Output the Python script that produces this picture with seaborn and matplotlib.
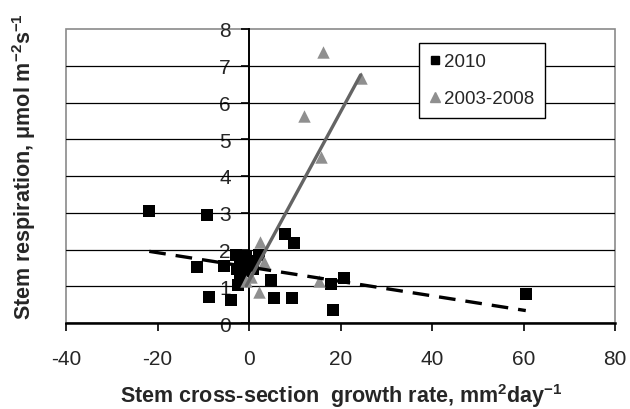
import numpy as np
import pandas as pd
import matplotlib
matplotlib.use("Agg")
import matplotlib.pyplot as plt
import seaborn as sns
from matplotlib.patches import Rectangle
from matplotlib.lines import Line2D

# Data: 2010 (black squares)
x_2010 = [-21.8, -9.1, -11.4, -5.4, -8.8, -3.9, -2.9, -2.5, 7.9, 9.9, 2.2, 4.8,
          5.5, 9.5, 17.9, 20.8, 18.3, 60.5, -2.0, -0.7, 0.7, -2.6, -1.1, -2.0, 0.9]
y_2010 = [3.05, 2.95, 1.53, 1.54, 0.70, 0.63, 1.85, 1.03, 2.42, 2.17, 1.85, 1.17,
          0.68, 0.68, 1.06, 1.22, 0.35, 0.79, 1.69, 1.80, 1.69, 1.47, 1.42, 1.20, 1.47]
# Data: 2003-2008 (gray triangles)
x_0308 = [16.1, 24.4, 12.0, 15.7, 15.4, 2.4, 2.2, 3.3, -0.6, 0.5]
y_0308 = [7.38, 6.66, 5.64, 4.53, 1.15, 2.2, 0.85, 1.67, 1.15, 1.25]

x_ticks = [-40, -20, 0, 20, 40, 60, 80]
y_ticks = [0, 1, 2, 3, 4, 5, 6, 7, 8]
series_labels = ["2010", "2003-2008"]

sns.set_style("white")
plt.rcParams['font.family'] = ['Liberation Sans', 'DejaVu Sans']
plt.rcParams['mathtext.fontset'] = 'custom'
plt.rcParams['mathtext.rm'] = 'Liberation Sans'
plt.rcParams['mathtext.bf'] = 'Liberation Sans:bold'
plt.rcParams['mathtext.default'] = 'bf'

df10 = pd.DataFrame({"x": x_2010, "y": y_2010})
df08 = pd.DataFrame({"x": x_0308, "y": y_0308})

fig = plt.figure(figsize=(6.3, 4.1), dpi=100)
ax = fig.add_axes([66/630, 1-324/410, (615-66)/630, (324-30)/410])

GRAY_PT = "#8f8f8f"
GRAY_LN = "#646464"

# horizontal grid lines
for yv in y_ticks[1:-1]:
    ax.axhline(yv, color="black", lw=0.9, zorder=1)

sns.regplot(data=df10, x="x", y="y", scatter=False, ci=None, truncate=True, ax=ax,
            line_kws=dict(color="black", lw=2.4, dashes=(5, 3), zorder=4))
sns.regplot(data=df08, x="x", y="y", scatter=False, ci=None, truncate=True, ax=ax,
            line_kws=dict(color=GRAY_LN, lw=2.4, zorder=4))

sns.scatterplot(data=df10, x="x", y="y", marker="s", color="black", s=78,
                edgecolor="black", linewidth=0, ax=ax, zorder=3)
sns.scatterplot(data=df08, x="x", y="y", marker="^", color=GRAY_PT, s=80,
                edgecolor=GRAY_PT, linewidth=0, ax=ax, zorder=3)

ax.set_xlim(-40, 80)
ax.set_ylim(0, 8)
ax.set_xticks(x_ticks)
ax.set_yticks(y_ticks)
ax.set_xticklabels([str(v) for v in x_ticks])
ax.set_yticklabels([str(v) for v in y_ticks])
ax.set_xlabel("")
ax.set_ylabel("")

# Spines: left spine at x=0 (black), bottom at y=0 black, gray outer box
ax.spines['left'].set_position(('data', 0))
ax.spines['left'].set_color('black')
ax.spines['left'].set_linewidth(1.4)
ax.spines['bottom'].set_color('black')
ax.spines['bottom'].set_linewidth(1.8)
ax.spines['top'].set_visible(False)
ax.spines['right'].set_visible(False)
ax.add_patch(Rectangle((0, 0), 1, 1, transform=ax.transAxes, fill=False,
                       edgecolor="#8a8a8a", lw=1.2, zorder=0.5, clip_on=False))

ax.tick_params(axis='y', direction='out', length=6, width=1.2, color='black',
               labelsize=15, pad=7, left=True)
ax.tick_params(axis='x', direction='out', length=6, width=1.2, color='black',
               labelsize=15, pad=13, bottom=True)

# Legend
handles = [Line2D([], [], ls='none', marker='s', color='black', markersize=6),
           Line2D([], [], ls='none', marker='^', color=GRAY_PT, markersize=7)]
leg = ax.legend(handles, series_labels, loc='upper left',
                bbox_to_anchor=((419-66)/549, (324-44)/294), frameon=True,
                fancybox=False, edgecolor='black', framealpha=1, fontsize=13.5,
                labelspacing=1.05, handlelength=0.6, handletextpad=0.2,
                borderpad=0.55, borderaxespad=0)
leg.get_frame().set_linewidth(1.0)

fig.text(341/630, 1-396/410, r"Stem cross-section  growth rate, mm$^{2}$day$^{-1}$",
         ha='center', va='center', fontsize=15.5, fontweight='bold')
fig.text(24/630, 1-167/410, r"Stem respiration, μmol m$^{-2}$s$^{-1}$",
         ha='center', va='center', fontsize=15.5, fontweight='bold', rotation=90)

fig.savefig("out.png", dpi=100)
